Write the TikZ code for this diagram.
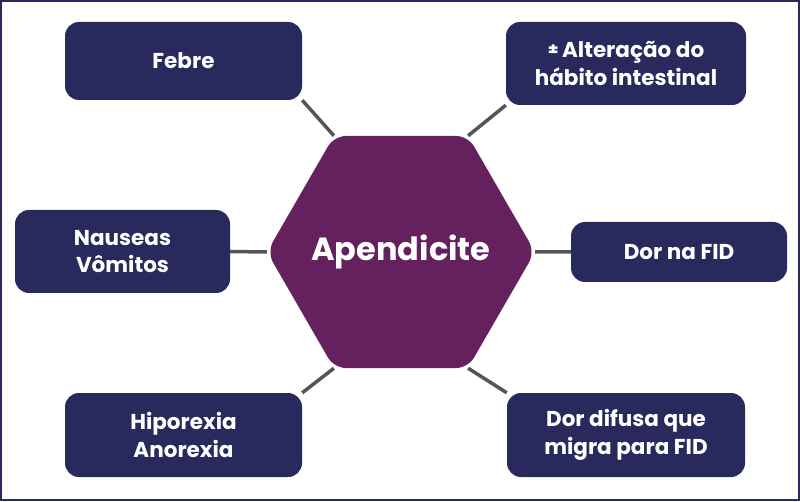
\documentclass[tikz,border=0pt]{standalone}
\usepackage{fontspec}
\setmainfont{Poppins}
\usetikzlibrary{shapes.geometric,backgrounds}
\definecolor{navy}{RGB}{40,42,94}
\definecolor{apurple}{RGB}{101,32,94}
\definecolor{linkgray}{RGB}{85,85,85}
\tikzset{
 sign/.style={fill=navy, rounded corners=14pt, text=white, align=center, inner sep=0pt,
   font=\fontsize{21.5}{27.5}\selectfont\bfseries},
 link/.style={draw=linkgray, line width=3.5pt}
}

\begin{document}
\begin{tikzpicture}[x=1pt, y=1pt]
 \useasboundingbox (0,0) rectangle (800,501);
 \draw[navy, line width=2pt] (1,1) rectangle (799,500);

 \node (hex) [regular polygon, regular polygon sides=6, minimum size=268pt, inner sep=-30pt,
   fill=apurple, rounded corners=12pt, text=white, font=\fontsize{32}{38}\selectfont\bfseries]
   at (401,249) {Apendicite};

 \node (febre) [sign, minimum width=237pt, minimum height=78pt] at (183.5,440) {Febre};
 \node (habito) [sign, minimum width=240pt, minimum height=83pt] at (626,437.5)
   {\raisebox{2pt}{\fontsize{17}{17}\selectfont ±}\,Alteração do\\hábito intestinal};
 \node (nausea) [sign, minimum width=215pt, minimum height=83pt] at (122.5,249.5) {Nauseas\\Vômitos};
 \node (fid) [sign, minimum width=216pt, minimum height=60pt] at (679,249) {Dor na FID};
 \node (hipo) [sign, minimum width=237pt, minimum height=84pt] at (183.5,66) {Hiporexia\\Anorexia};
 \node (difusa) [sign, minimum width=238pt, minimum height=84pt] at (626,66) {Dor difusa que\\migra para FID};

 \begin{scope}[on background layer]
  \draw[link] (hex.120) to (febre.south east);
  \draw[link] (hex.60) to (habito.south west);
  \draw[link] (hex.180) to (nausea.east);
  \draw[link] (hex.0) to (fid.west);
  \draw[link] (hex.240) to (hipo.north east);
  \draw[link] (hex.300) to (difusa.north west);
 \end{scope}
\end{tikzpicture}
\end{document}
